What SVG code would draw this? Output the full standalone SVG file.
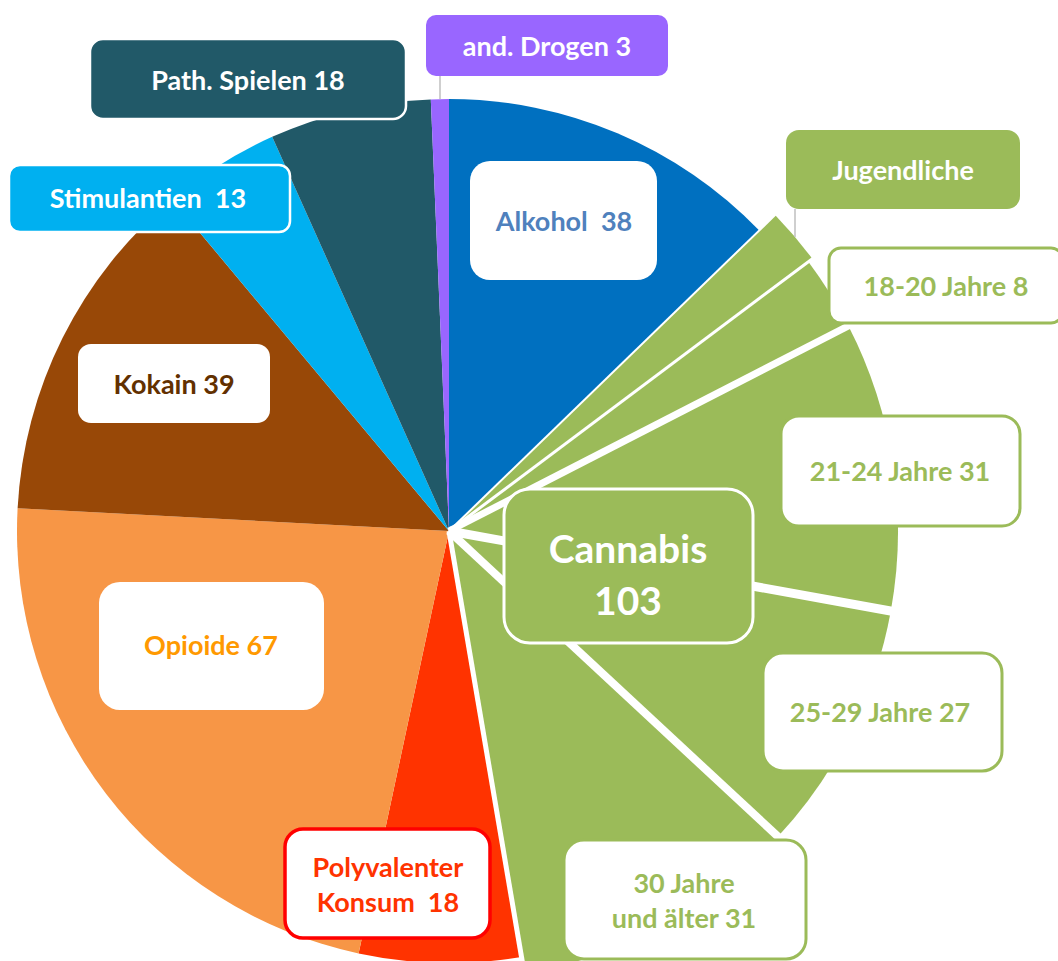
<svg xmlns="http://www.w3.org/2000/svg" width="1058" height="961" viewBox="0 0 1058 961">
<style>
text{font-family:Lato,"Liberation Sans",sans-serif;font-weight:bold;font-size:27px;text-anchor:middle}
text.big{font-size:39px}
.w{fill:#FFFFFF}
.g{fill:#9BBB59}
.box{fill:#FFFFFF}
.gb{fill:#FFFFFF;stroke:#9BBB59;stroke-width:3}
.sep{stroke:#FFFFFF;fill:none;stroke-linecap:butt}
.conn{stroke:#BFBFBF;stroke-width:1.5;fill:none}
</style>
<rect width="1058" height="961" fill="#FFFFFF"/>
<g id="pie">
  <path id="slice-alkohol" d="M449,531 L449,99 A432,432 0 0 1 759.26,230.40 Z" fill="#0070C0"/>
  <path id="slice-jugendliche" d="M449,531 L775.06,215.09 A454,454 0 0 1 812.32,258.75 Z" fill="#9BBB59"/>
  <path id="slice-18-20" d="M449,531 L808.32,261.75 A449,449 0 0 1 848.42,325.90 Z" fill="#9BBB59"/>
  <path id="slice-21-24" d="M449,531 L848.42,325.90 A449,449 0 0 1 890.81,611.03 Z" fill="#9BBB59"/>
  <path id="slice-25-29" d="M449,531 L890.81,611.03 A449,449 0 0 1 777.99,836.56 Z" fill="#9BBB59"/>
  <path id="slice-30plus" d="M449,531 L777.99,836.56 A449,449 0 0 1 524.38,973.64 Z" fill="#9BBB59"/>
  <path id="slice-poly" d="M449,531 L521.52,956.88 A432,432 0 0 1 358.59,953.44 Z" fill="#FF3300"/>
  <path id="slice-opioide" d="M449,531 L358.59,953.44 A432,432 0 0 1 17.60,508.24 Z" fill="#F79646"/>
  <path id="slice-kokain" d="M449,531 L17.60,508.24 A432,432 0 0 1 172.09,199.42 Z" fill="#984807"/>
  <path id="slice-stim" d="M449,531 L172.09,199.42 A432,432 0 0 1 272.18,136.84 Z" fill="#00B0F0"/>
  <path id="slice-path" d="M449,531 L272.18,136.84 A432,432 0 0 1 430.79,99.38 Z" fill="#215968"/>
  <path id="slice-drogen" d="M449,531 L430.79,99.38 A432,432 0 0 1 449,99 Z" fill="#9966FF"/>
  <g id="separators">
    <line class="sep" x1="449" y1="531" x2="779.4" y2="210.9" stroke-width="2"/>
    <line class="sep" x1="449" y1="531" x2="817.1" y2="255.2" stroke-width="3"/>
    <line class="sep" x1="449" y1="531" x2="858.2" y2="320.9" stroke-width="7"/>
    <line class="sep" x1="449" y1="531" x2="901.6" y2="613.0" stroke-width="9"/>
    <line class="sep" x1="449" y1="531" x2="786.0" y2="844.0" stroke-width="8"/>
    <line class="sep" x1="449" y1="531" x2="526.2" y2="984.5" stroke-width="5"/>
  </g>
</g>
<g id="connectors">
  <line class="conn" x1="440" y1="76" x2="440" y2="99"/>
  <line class="conn" x1="795" y1="209" x2="795" y2="237"/>
</g>
<g id="label-drogen">
  <rect x="426" y="15" width="242" height="61" rx="10" fill="#9966FF"/>
  <text x="547" y="56" class="w">and. Drogen 3</text>
</g>
<g id="label-path">
  <rect x="90" y="39" width="316" height="80" rx="13" fill="#215968" stroke="#FFFFFF" stroke-width="2.5"/>
  <text x="248" y="90" class="w">Path. Spielen 18</text>
</g>
<g id="label-stim">
  <rect x="9" y="165" width="281" height="67" rx="11" fill="#00B0F0" stroke="#FFFFFF" stroke-width="2.5"/>
  <text x="148" y="208" class="w" xml:space="preserve">Stimulantien  13</text>
</g>
<g id="label-alkohol">
  <rect x="470" y="161" width="187" height="119" rx="20" class="box"/>
  <text x="564" y="231" fill="#4F81BD" xml:space="preserve">Alkohol  38</text>
</g>
<g id="label-jugendliche">
  <rect x="786" y="130" width="234" height="79" rx="13" fill="#9BBB59"/>
  <text x="903" y="180" class="w">Jugendliche</text>
</g>
<g id="label-18-20">
  <rect x="829" y="248" width="234" height="75" rx="12" class="gb"/>
  <text x="946" y="296" class="g">18-20 Jahre 8</text>
</g>
<g id="label-21-24">
  <rect x="781" y="416" width="239" height="110" rx="18" class="gb"/>
  <text x="900" y="481" class="g">21-24 Jahre 31</text>
</g>
<g id="label-25-29">
  <rect x="763" y="653" width="239" height="118" rx="20" class="gb"/>
  <text x="880" y="722" class="g">25-29 Jahre 27</text>
</g>
<g id="label-cannabis">
  <rect x="504" y="489" width="249" height="154" rx="26" fill="#9BBB59" stroke="#FFFFFF" stroke-width="3"/>
  <text x="628" y="563" class="w big">Cannabis</text>
  <text x="628" y="615" class="w big">103</text>
</g>
<g id="label-30plus">
  <rect x="564" y="840" width="242" height="119" rx="20" class="gb"/>
  <text x="684" y="893" class="g">30 Jahre</text>
  <text x="684" y="928" class="g">und älter 31</text>
</g>
<g id="label-poly">
  <rect x="285" y="829" width="205" height="109" rx="18" fill="#FFFFFF" stroke="#FF0000" stroke-width="3.5"/>
  <text x="388" y="877" fill="#FF3300">Polyvalenter</text>
  <text x="388" y="912" fill="#FF3300" xml:space="preserve">Konsum  18</text>
</g>
<g id="label-kokain">
  <rect x="78" y="344" width="192" height="79" rx="13" class="box"/>
  <text x="174" y="394" fill="#623000">Kokain 39</text>
</g>
<g id="label-opioide">
  <rect x="99" y="582" width="225" height="128" rx="21" class="box"/>
  <text x="211" y="655" fill="#FF9900">Opioide 67</text>
</g>
</svg>
